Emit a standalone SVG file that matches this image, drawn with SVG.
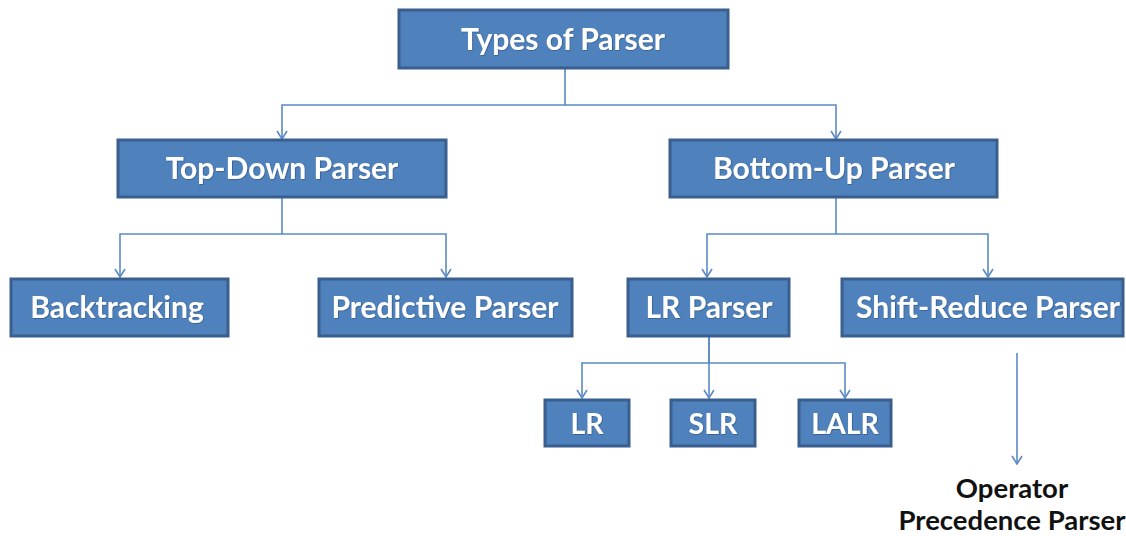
<svg xmlns="http://www.w3.org/2000/svg" width="1126" height="536" viewBox="0 0 1126 536">
  <defs>
    <!-- open V arrowhead, drawn along +x so orient="auto" follows the line -->
    <marker id="arrow" viewBox="0 0 10 12" refX="9" refY="6" markerWidth="10" markerHeight="12" markerUnits="userSpaceOnUse" orient="auto">
      <path d="M1,1 L9,6 L1,11" fill="none" stroke="#5b8ac6" stroke-width="1.6"/>
    </marker>
    <filter id="glow" x="-5%" y="-20%" width="110%" height="140%">
      <feDropShadow dx="0.6" dy="0.6" stdDeviation="0.6" flood-color="#1f3a60" flood-opacity="0.7"/>
    </filter>
  </defs>
  <style>
    .box { fill: #4f81bd; stroke: #3a5f8e; stroke-width: 3; }
    .lbl { font-family: Lato, "Open Sans", "Liberation Sans", sans-serif; font-weight: bold; fill: #ffffff; text-anchor: middle; filter: url(#glow); }
    .big { font-size: 30px; }
    .mid { font-size: 30px; }
    .sm { font-size: 28.5px; }
    .plain { font-family: Lato, "Open Sans", "Liberation Sans", sans-serif; font-weight: bold; font-size: 27.5px; fill: #111111; text-anchor: middle; }
    .wire { fill: none; stroke: #5b8ac6; stroke-width: 1.6; }
  </style>
  <rect width="1126" height="536" fill="#ffffff"/>

  <g id="connectors">
    <!-- root to first level -->
    <path class="wire" d="M565,69 V105 H282 V139" marker-end="url(#arrow)"/>
    <path class="wire" d="M565,105 H836 V139" marker-end="url(#arrow)"/>
    <!-- top-down children -->
    <path class="wire" d="M282,197 V234 H120 V277" marker-end="url(#arrow)"/>
    <path class="wire" d="M282,234 H446 V277" marker-end="url(#arrow)"/>
    <!-- bottom-up children -->
    <path class="wire" d="M836,197 V234 H707 V277" marker-end="url(#arrow)"/>
    <path class="wire" d="M836,234 H988 V277" marker-end="url(#arrow)"/>
    <!-- LR parser children -->
    <path class="wire" d="M709,336 V363 H582 V398" marker-end="url(#arrow)"/>
    <path class="wire" d="M709,336 V398" marker-end="url(#arrow)"/>
    <path class="wire" d="M709,363 H845 V398" marker-end="url(#arrow)"/>
    <!-- shift-reduce to operator precedence -->
    <path class="wire" d="M1017,353 V464" marker-end="url(#arrow)"/>
  </g>

  <g id="types-of-parser">
    <rect class="box" x="399" y="10" width="329" height="58"/>
    <text class="lbl big" x="563" y="50">Types of Parser</text>
  </g>

  <g id="top-down-parser">
    <rect class="box" x="118" y="140" width="328" height="57"/>
    <text class="lbl mid" x="282" y="179">Top-Down Parser</text>
  </g>

  <g id="bottom-up-parser">
    <rect class="box" x="670" y="140" width="327" height="57"/>
    <text class="lbl mid" x="834" y="179">Bottom-Up Parser</text>
  </g>

  <g id="backtracking">
    <rect class="box" x="11" y="279" width="217" height="57"/>
    <text class="lbl mid" x="117" y="318">Backtracking</text>
  </g>

  <g id="predictive-parser">
    <rect class="box" x="319" y="279" width="253" height="57"/>
    <text class="lbl mid" x="445" y="318">Predictive Parser</text>
  </g>

  <g id="lr-parser">
    <rect class="box" x="628" y="279" width="161" height="57"/>
    <text class="lbl mid" x="709" y="318">LR Parser</text>
  </g>

  <g id="shift-reduce-parser">
    <rect class="box" x="842" y="279" width="281" height="57"/>
    <text class="lbl mid" x="988" y="318">Shift-Reduce Parser</text>
  </g>

  <g id="lr">
    <rect class="box" x="545" y="400" width="84" height="46"/>
    <text class="lbl sm" x="587" y="434">LR</text>
  </g>

  <g id="slr">
    <rect class="box" x="671" y="400" width="84" height="46"/>
    <text class="lbl sm" x="713" y="434">SLR</text>
  </g>

  <g id="lalr">
    <rect class="box" x="799" y="400" width="92" height="46"/>
    <text class="lbl sm" x="845" y="434">LALR</text>
  </g>

  <g id="operator-precedence-parser">
    <text class="plain" x="1012" y="498">Operator</text>
    <text class="plain" x="1012" y="530">Precedence Parser</text>
  </g>
</svg>
